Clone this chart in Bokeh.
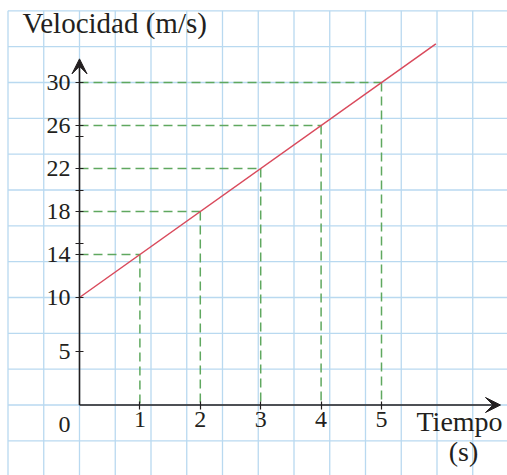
from bokeh.plotting import figure
from bokeh.models import FixedTicker, Arrow, VeeHead, Label, Range1d
from bokeh.embed import file_html
from bokeh.resources import INLINE

# ---- data ----
times = [1, 2, 3, 4, 5]
speeds = [14, 18, 22, 26, 30]
line_t = [0, 5.9]
line_v = [10, 33.6]
x_ticks = [1, 2, 3, 4, 5]
y_ticks = [5, 10, 14, 18, 22, 26, 30]
y_minor = [15, 20, 25]
origin_label = "0"
x_title = "Tiempo"
x_unit = "(s)"
y_title = "Velocidad (m/s)"

# ---- layout / style ----
W, H = 507, 475
PX_X, PX_Y = 60.4, 10.75          # pixels per data unit
X0 = -79 / PX_X
X1 = X0 + W / PX_X
Y1 = 404.5 / PX_Y
Y0 = Y1 - H / PX_Y
INK = "#231f20"
FONT = "Liberation Serif"
GRID = "#b9d9f0"

p = figure(width=W, height=H, x_range=Range1d(X0, X1), y_range=Range1d(Y0, Y1),
           output_backend="svg", toolbar_location=None, min_border=0)
p.outline_line_color = None
p.background_fill_color = "white"
p.border_fill_color = "white"
p.grid.visible = False

# paper grid (squares of 35.75 px), starting at the sheet's top-left corner
gx = 35.75 / PX_X
gy = 10 / 3
gxs = [k * gx for k in range(-2, 13)]
gys = [k * gy for k in range(-2, 12)]
g_top, g_left = gys[-1], gxs[0]
p.segment(x0=gxs, y0=[Y0] * len(gxs), x1=gxs, y1=[g_top] * len(gxs),
          line_color=GRID, line_width=1.3)
p.segment(x0=[g_left] * len(gys), y0=gys, x1=[X1] * len(gys), y1=gys,
          line_color=GRID, line_width=1.3)

# dashed guides
zeros = [0 for _ in times]
dash = dict(line_color="#5fa85f", line_width=1.5, line_dash="9 5")
p.segment(x0=zeros, y0=speeds, x1=times, y1=speeds, **dash)
p.segment(x0=times, y0=speeds, x1=times, y1=zeros, **dash)

# velocity line
p.line(line_t, line_v, line_color="#d94a5c", line_width=1.5)

# axes through the origin
for ax in (p.xaxis, p.yaxis):
    ax.fixed_location = 0
    ax.axis_line_color = None
    ax.major_tick_in = 4
    ax.major_tick_out = 4
    ax.major_tick_line_color = INK
    ax.major_tick_line_width = 1.2
    ax.major_label_text_font = FONT
    ax.major_label_text_font_size = "24px"
    ax.major_label_text_color = INK
p.xaxis.ticker = FixedTicker(ticks=x_ticks)
p.xaxis.minor_tick_line_color = None
p.xaxis.major_label_standoff = 3
p.yaxis.ticker = FixedTicker(ticks=y_ticks, minor_ticks=y_minor)
p.yaxis.minor_tick_in = 4
p.yaxis.minor_tick_out = 4
p.yaxis.minor_tick_line_color = INK
p.yaxis.minor_tick_line_width = 1.2
p.yaxis.major_label_standoff = 5

head = dict(size=15, fill_color=INK, line_color=INK)
p.add_layout(Arrow(end=VeeHead(**head), x_start=0, y_start=0, x_end=6.97, y_end=0,
                   line_color=INK, line_width=1.6))
p.add_layout(Arrow(end=VeeHead(**head), x_start=0, y_start=0, x_end=0, y_end=32.2,
                   line_color=INK, line_width=1.6))

lab = dict(text_font=FONT, text_color=INK)
p.add_layout(Label(x=(22 - 79) / PX_X, y=(404.5 - 22) / PX_Y, text=y_title,
                   text_font_size="29px", text_baseline="alphabetic", **lab))
p.add_layout(Label(x=(416 - 79) / PX_X, y=(404.5 - 421) / PX_Y, text=x_title,
                   text_font_size="28px", text_baseline="alphabetic", **lab))
p.add_layout(Label(x=(463 - 79) / PX_X, y=(404.5 - 451) / PX_Y, text=x_unit,
                   text_font_size="28px", text_align="center",
                   text_baseline="alphabetic", **lab))
p.add_layout(Label(x=(64 - 79) / PX_X, y=(404.5 - 424) / PX_Y, text=origin_label,
                   text_font_size="24px", text_align="center",
                   text_baseline="middle", **lab))

open("out.html", "w").write(file_html(p, INLINE))
